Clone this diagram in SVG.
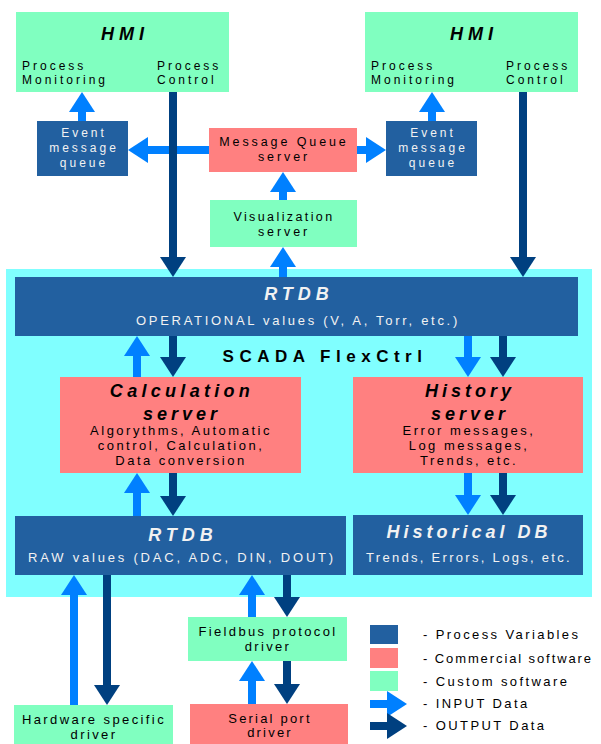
<svg xmlns="http://www.w3.org/2000/svg" width="601" height="744" viewBox="0 0 601 744">
<style>
text{font-family:"Liberation Sans",Arial,sans-serif;fill:#000}
.g{fill:#80FFC0}.r{fill:#FF8080}.b{fill:#2260A0}.c{fill:#80FFFF}
.t12{font-size:12px;letter-spacing:3px}
.t125{font-size:12.5px;letter-spacing:2.9px}
.t13{font-size:13px;letter-spacing:2.5px}
.w{fill:#F2F2F2}
.bi{font-size:18px;font-weight:bold;font-style:italic;letter-spacing:4px}
.m{text-anchor:middle}
.in{stroke:#0080FF;stroke-width:8;fill:none;marker-end:url(#ai)}
.out{stroke:#004080;stroke-width:8;fill:none;marker-end:url(#ao)}
</style>
<defs>
<marker id="ai" markerUnits="userSpaceOnUse" markerWidth="20" markerHeight="26" refX="10" refY="13" orient="auto"><path d="M0,0 L20,13 L0,26 z" fill="#0080FF"/></marker>
<marker id="ao" markerUnits="userSpaceOnUse" markerWidth="20" markerHeight="26" refX="10" refY="13" orient="auto"><path d="M0,0 L20,13 L0,26 z" fill="#004080"/></marker>
</defs>
<rect id="scada" class="c" x="6" y="269" width="586" height="328"/>
<g id="hmi-left"><rect class="g" x="16" y="12" width="213" height="80"/>
<text class="bi m" x="125" y="40" style="letter-spacing:5px">HMI</text>
<text class="t12" x="22" y="70">Process</text><text class="t12" x="22" y="84">Monitoring</text>
<text class="t12" x="157" y="70">Process</text><text class="t12" x="157" y="84">Control</text></g>
<g id="hmi-right"><rect class="g" x="365" y="12" width="213" height="80"/>
<text class="bi m" x="474" y="40" style="letter-spacing:5px">HMI</text>
<text class="t12" x="371" y="70">Process</text><text class="t12" x="371" y="84">Monitoring</text>
<text class="t12" x="506" y="70">Process</text><text class="t12" x="506" y="84">Control</text></g>
<g id="event-left"><rect class="b" x="37" y="121" width="91" height="55"/>
<text class="t12 m w" x="84" y="137">Event</text><text class="t12 m w" x="84" y="152">message</text><text class="t12 m w" x="84" y="167">queue</text></g>
<g id="event-right"><rect class="b" x="386" y="121" width="91" height="55"/>
<text class="t12 m w" x="433" y="137">Event</text><text class="t12 m w" x="433" y="152">message</text><text class="t12 m w" x="433" y="167">queue</text></g>
<g id="mq"><rect class="r" x="209" y="128" width="148" height="44"/>
<text class="t125 m" x="284" y="146">Message Queue</text><text class="t125 m" x="284" y="161">server</text></g>
<g id="vis"><rect class="g" x="210" y="200" width="147" height="47"/>
<text class="t125 m" x="284" y="221" style="letter-spacing:2.4px">Visualization</text><text class="t125 m" x="284" y="236">server</text></g>
<g id="rtdb-op"><rect class="b" x="15" y="277" width="563" height="59"/>
<text class="bi m w" x="299" y="300" style="letter-spacing:5px">RTDB</text>
<text class="t13 m w" x="298" y="325" style="letter-spacing:2.7px">OPERATIONAL values (V, A, Torr, etc.)</text></g>
<text id="scada-label" x="325" y="362" class="m" style="font-size:17px;font-weight:bold;letter-spacing:5.5px">SCADA FlexCtrl</text>
<g id="calc"><rect class="r" x="60" y="377" width="241" height="96"/>
<text class="bi m" x="182" y="397" style="letter-spacing:4.3px">Calculation</text>
<text class="bi m" x="182" y="420">server</text>
<text class="t13 m" x="181" y="435">Algorythms, Automatic</text>
<text class="t13 m" x="181" y="450">control, Calculation,</text>
<text class="t13 m" x="181" y="465">Data conversion</text></g>
<g id="history"><rect class="r" x="353" y="377" width="230" height="96"/>
<text class="bi m" x="470" y="397">History</text>
<text class="bi m" x="470" y="420">server</text>
<text class="t13 m" x="469" y="435">Error messages,</text>
<text class="t13 m" x="469" y="450">Log messages,</text>
<text class="t13 m" x="469" y="465">Trends, etc.</text></g>
<g id="rtdb-raw"><rect class="b" x="15" y="516" width="331" height="59"/>
<text class="bi m w" x="183" y="541" style="letter-spacing:5px">RTDB</text>
<text class="t13 m w" x="182" y="562" style="letter-spacing:2.8px">RAW values (DAC, ADC, DIN, DOUT)</text></g>
<g id="histdb"><rect class="b" x="353" y="515" width="230" height="60"/>
<text class="bi m w" x="469" y="538">Historical DB</text>
<text class="t13 m w" x="469" y="562" style="letter-spacing:2.3px">Trends, Errors, Logs, etc.</text></g>
<g id="fieldbus"><rect class="g" x="188" y="617" width="159" height="44"/>
<text class="t13 m" x="268" y="636" style="letter-spacing:2.35px">Fieldbus protocol</text><text class="t13 m" x="268" y="651" style="letter-spacing:2.35px">driver</text></g>
<g id="hw"><rect class="g" x="14" y="705" width="159" height="39"/>
<text class="t13 m" x="94" y="724" style="letter-spacing:2.4px">Hardware specific</text><text class="t13 m" x="94" y="739" style="letter-spacing:2.4px">driver</text></g>
<g id="serial"><rect class="r" x="190" y="704" width="158" height="40"/>
<text class="t13 m" x="270" y="723" style="letter-spacing:2.2px">Serial port</text><text class="t13 m" x="270" y="737" style="letter-spacing:2.2px">driver</text></g>
<g id="connectors">
<path class="in" d="M209,150 H138"/>
<path class="in" d="M357,150 H376"/>
<path class="in" d="M82,121 V102"/>
<path class="in" d="M432,121 V102"/>
<path class="in" d="M283,200 V182"/>
<path class="in" d="M283,277 V257"/>
<path class="in" d="M137,377 V346"/>
<path class="in" d="M468,336 V367"/>
<path class="in" d="M137,516 V483"/>
<path class="in" d="M468,473 V505"/>
<path class="in" d="M74,705 V585"/>
<path class="in" d="M252,617 V585"/>
<path class="in" d="M252,704 V671"/>
<path class="out" d="M173,92 V267"/>
<path class="out" d="M523,92 V267"/>
<path class="out" d="M173,336 V367"/>
<path class="out" d="M503,336 V367"/>
<path class="out" d="M173,473 V506"/>
<path class="out" d="M503,473 V505"/>
<path class="out" d="M107,575 V695"/>
<path class="out" d="M287,575 V607"/>
<path class="out" d="M287,661 V694"/>
</g>
<g id="legend">
<rect class="b" x="370" y="625" width="28" height="19"/>
<rect class="r" x="370" y="648" width="28" height="20"/>
<rect class="g" x="370" y="671" width="28" height="20"/>
<path class="in" d="M370,704 H397"/>
<path class="out" d="M370,726 H397"/>
<text class="t13" x="423" y="639" style="letter-spacing:2.4px">- Process Variables</text>
<text class="t13" x="423" y="663" style="letter-spacing:1.9px">- Commercial software</text>
<text class="t13" x="423" y="686" style="letter-spacing:2.4px">- Custom software</text>
<text class="t13" x="423" y="708" style="letter-spacing:2.4px">- INPUT Data</text>
<text class="t13" x="423" y="730" style="letter-spacing:2.4px">- OUTPUT Data</text>
</g>
</svg>
